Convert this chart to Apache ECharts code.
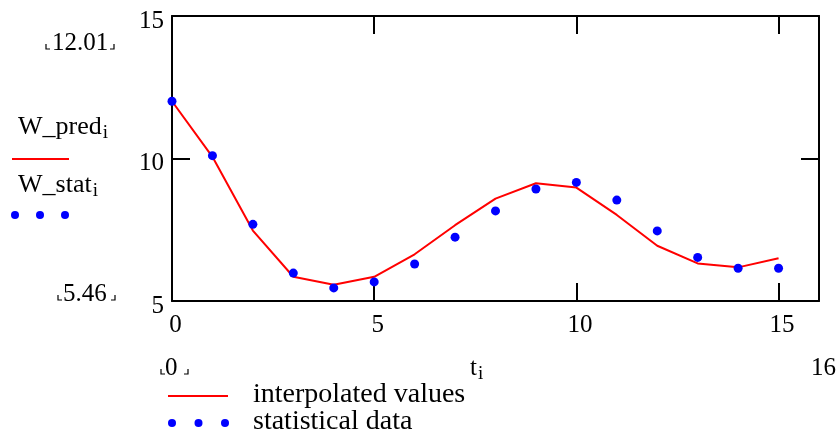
<!DOCTYPE html>
<html lang="en">
<head>
    <meta charset="UTF-8" />
    <title>W_pred vs W_stat</title>
    <script src="https://cdn.jsdelivr.net/npm/echarts@6/dist/echarts.min.js"></script>
    <style>
        body { margin: 0; background: #fff; }
        #main { width: 840px; height: 438px; }
    </style>
</head>
<body>
    <div id="main"></div>
    <script>
        // t_i = 0..15
        var t = [0, 1, 2, 3, 4, 5, 6, 7, 8, 9, 10, 11, 12, 13, 14, 15];
        // interpolated values
        var wPred = [12.01, 10.06, 7.47, 5.85, 5.57, 5.85, 6.64, 7.66, 8.59, 9.13, 8.98, 8.02, 6.94, 6.32, 6.18, 6.50];
        // statistical data
        var wStat = [12.01, 10.10, 7.69, 5.98, 5.46, 5.67, 6.30, 7.24, 8.16, 8.93, 9.16, 8.54, 7.46, 6.53, 6.15, 6.15];
        var seriesNames = ["interpolated values", "statistical data"];
        var yRange = ["5.46", "12.01"];
        var xRange = ["0", "16"];

        var font = "Liberation Serif";
        var fs = 25;
        var red = "#ff0000";
        var blue = "#0000ff";

        var mCharts = echarts.init(document.getElementById("main"));

        function axisBase(pos, showLabel) {
            return {
                type: "value",
                position: pos,
                axisLine: { show: true, onZero: false, lineStyle: { color: "#000", width: 2 } },
                axisTick: { show: true, inside: true, length: 18, lineStyle: { color: "#000", width: 2 } },
                splitLine: { show: false },
                axisLabel: {
                    show: showLabel,
                    color: "#000",
                    fontFamily: font,
                    fontSize: fs,
                    showMaxLabel: false,
                },
            };
        }

        var xBottom = axisBase("bottom", true);
        xBottom.min = 0; xBottom.max = 16; xBottom.interval = 5;
        xBottom.axisLabel.margin = 12;
        xBottom.axisLabel.padding = [0, 0, 0, 7];
        var xTop = axisBase("top", false);
        xTop.min = 0; xTop.max = 16; xTop.interval = 5;

        var yLeft = axisBase("left", true);
        yLeft.min = 5; yLeft.max = 15; yLeft.interval = 5;
        yLeft.axisLabel.showMaxLabel = true;
        yLeft.axisLabel.margin = 8;
        // labels sit a little below their ticks
        yLeft.axisLabel.formatter = "{a|{value}}";
        yLeft.axisLabel.rich = { a: { fontFamily: font, fontSize: fs, color: "#000", padding: [10, 0, 0, 0] } };
        var yRight = axisBase("right", false);
        yRight.min = 5; yRight.max = 15; yRight.interval = 5;

        // small Mathcad style placeholder brackets
        function brackets(x1, x2, yb) {
            var s = { stroke: "#000", lineWidth: 1.2, fill: null };
            return [
                { type: "polyline", shape: { points: [[x1, yb - 5], [x1, yb], [x1 + 4, yb]] }, style: s },
                { type: "polyline", shape: { points: [[x2 - 4, yb], [x2, yb], [x2, yb - 5]] }, style: s },
            ];
        }

        function txt(x, y, text, align, size) {
            return {
                type: "text",
                x: x,
                y: y,
                style: {
                    text: text,
                    fill: "#000",
                    font: (size || fs) + "px '" + font + "'",
                    textAlign: align || "left",
                    textVerticalAlign: "middle",
                    rich: {
                        s: { fontFamily: font, fontSize: 19, padding: [13, 0, 0, 1], fill: "#000" },
                    },
                },
            };
        }

        function dots(x0, y, gap) {
            return [0, 1, 2].map(function (k) {
                return { type: "circle", shape: { cx: x0 + k * gap, cy: y, r: 4 }, style: { fill: blue } };
            });
        }

        var graphics = [
            txt(52, 43, yRange[1]),
            txt(63, 294, yRange[0]),
            txt(18, 127, "W_pred{s|i}", "left", 26),
            { type: "line", shape: { x1: 12, y1: 159, x2: 69, y2: 159 }, style: { stroke: red, lineWidth: 2 } },
            txt(18, 185, "W_stat{s|i}", "left", 26),
            txt(165, 368, xRange[0]),
            txt(470, 368, "t{s|i}"),
            txt(836, 368, xRange[1], "right"),
            { type: "line", shape: { x1: 168, y1: 396, x2: 228, y2: 396 }, style: { stroke: red, lineWidth: 2 } },
            txt(253, 395, seriesNames[0], "left", 28),
            txt(253, 422, seriesNames[1], "left", 28),
        ];
        graphics = graphics
            .concat(brackets(46, 114, 49))
            .concat(brackets(58, 115, 300))
            .concat(brackets(161, 188, 374))
            .concat(dots(15, 215, 25))
            .concat(dots(172, 423, 26.5));

        var option = {
            animation: false,
            backgroundColor: "#fff",
            grid: { left: 172, right: 21, top: 16, bottom: 137 },
            xAxis: [xBottom, xTop],
            yAxis: [yLeft, yRight],
            series: [
                {
                    name: seriesNames[0],
                    type: "line",
                    data: t.map(function (v, i) { return [v, wPred[i]]; }),
                    showSymbol: false,
                    symbol: "none",
                    lineStyle: { color: red, width: 2 },
                    z: 2,
                },
                {
                    name: seriesNames[1],
                    type: "scatter",
                    data: t.map(function (v, i) { return [v, wStat[i]]; }),
                    symbolSize: 9,
                    itemStyle: { color: blue, opacity: 1 },
                    z: 3,
                },
            ],
            graphic: graphics,
        };
        mCharts.setOption(option);
    </script>
</body>
</html>
